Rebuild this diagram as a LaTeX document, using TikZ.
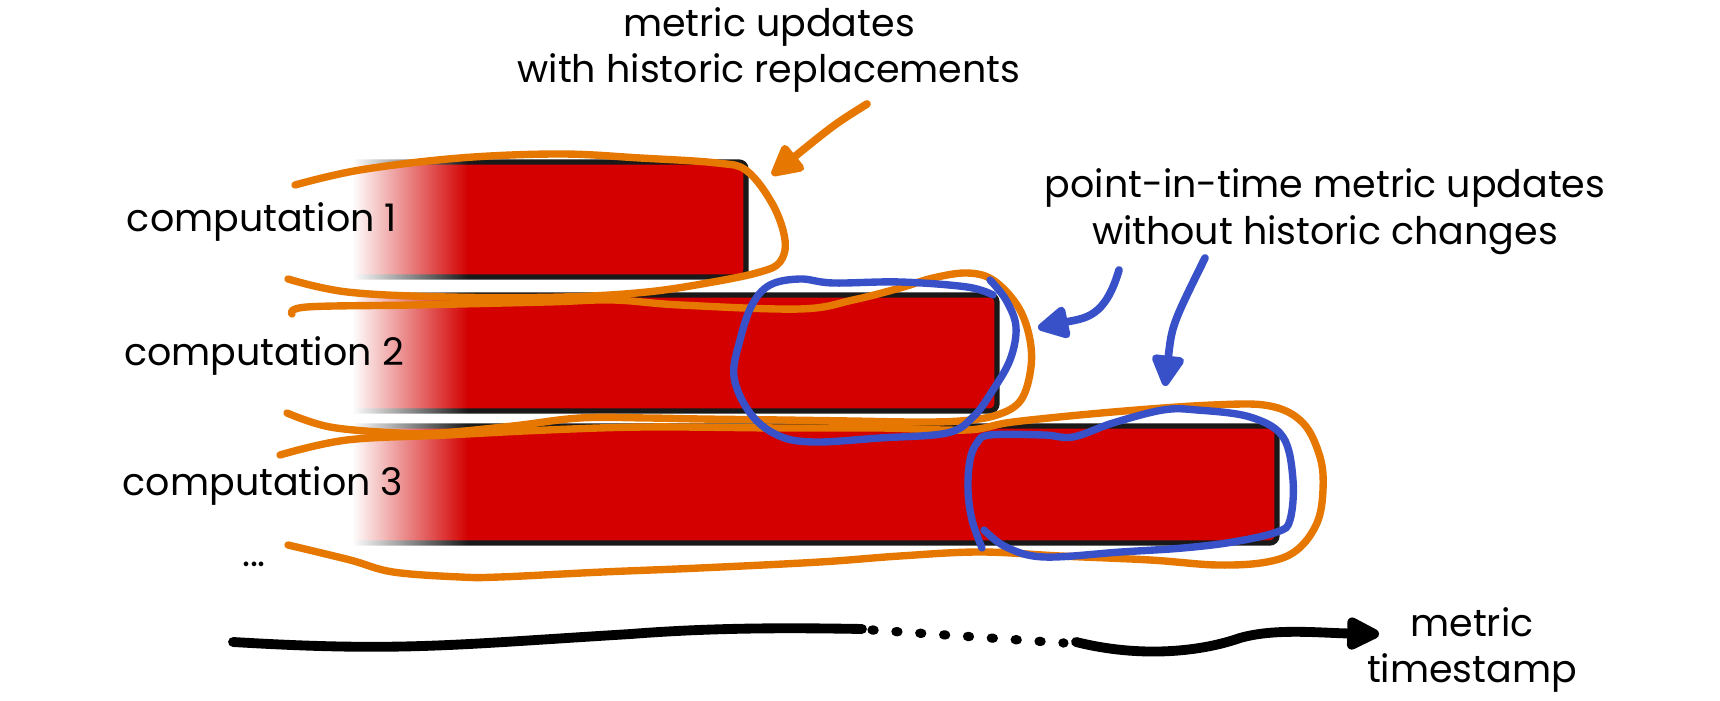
\documentclass[tikz,border=0pt]{standalone}
\usepackage{fontspec}
\setmainfont{Poppins}
\usetikzlibrary{arrows.meta,fadings}
\definecolor{historange}{RGB}{230,119,0}
\definecolor{pitblue}{RGB}{56,81,200}
\definecolor{barred}{RGB}{212,0,0}

\begin{document}
\begin{tikzpicture}[x=0.01cm,y=-0.01cm,>={Triangle[length=10pt,width=10pt,round]},
  line cap=round,line join=round,
  lbl/.style={font=\fontsize{10.8}{13.3}\selectfont,inner sep=0pt,align=center},
  bar/.style={fill=barred,draw=black!90,line width=1.5pt,rounded corners=2pt},
  hist/.style={draw=historange,line width=2.1pt},
  pit/.style={draw=pitblue,line width=2.1pt}]
\useasboundingbox (0,0) rectangle (1720,701);

% computations
\path[bar] (335,162) rectangle (746,277);
\path[bar] (335,295) rectangle (997,411);
\path[bar] (335,426) rectangle (1277,543);
\fill[white] (320,150) rectangle (353,560);
\fill[white,path fading=east] (352,150) rectangle (468,560);

\node[lbl] (comp1) at (262,222) {computation 1};
\node[lbl] (comp2) at (264,356) {computation 2};
\node[lbl] (comp3) at (263,486) {computation 3};
\node[lbl] (more) at (254,564) {...};

% historic replacements
\draw[hist] plot[smooth,tension=0.6] coordinates {(295,185) (360,170) (460,158) (560,154) (640,158) (717,163) (747,171) (773,205) (785,240) (780,262) (760,272) (713,282) (647,292) (563,297) (447,297) (347,292) (288,279)};
\draw[hist] plot[smooth,tension=0.6] coordinates {(292,314) (307,307) (413,305) (547,302) (613,300) (680,305) (800,309) (853,300) (900,288) (933,278) (967,273) (993,280) (1017,305) (1029,335) (1031,367) (1021,400) (997,415) (960,421) (913,422) (850,421) (780,420) (700,419) (647,418) (580,418) (513,426) (440,433) (397,433) (330,427) (287,413)};
\draw[hist] plot[smooth,tension=0.6] coordinates {(280,455) (347,440) (447,435) (547,430) (647,427) (780,428) (880,428) (967,430) (1013,422) (1113,412) (1213,405) (1270,406) (1303,423) (1320,457) (1323,490) (1317,523) (1297,550) (1267,562) (1217,565) (1150,560) (1060,556) (980,552) (900,556) (820,562) (700,568) (603,572) (500,577) (460,577) (393,572) (350,560) (288,545)};

\node[lbl] (histnote) at (769,50) {metric updates\\with historic replacements};
\coordinate (histfrom) at (867,104);
\coordinate (histto) at (772,175);
\draw[hist,line width=2.2pt,->] (histfrom) .. controls (835,124) .. (histto);

% point-in-time updates
\draw[pit] plot[smooth,tension=0.6] coordinates {(990,280) (1006,300) (1016,327) (1010,360) (991,393) (973,417) (947,433) (880,438) (813,442) (777,435) (750,413) (734,377) (740,340) (752,305) (770,285) (800,279) (833,283) (900,282) (967,287) (993,295)};
\draw[pit] plot[smooth,tension=0.6] coordinates {(982,548) (972,520) (968,490) (970,460) (977,443) (990,435) (1044,435) (1073,437) (1113,423) (1163,410) (1197,410) (1250,417) (1283,437) (1293,480) (1290,520) (1277,532) (1233,542) (1183,548) (1121,552) (1044,557) (1006,547) (984,530)};

\node[lbl] (pitnote) at (1325,212) {point-in-time metric updates\\without historic changes};
\coordinate (pitfromA) at (1119,270);
\coordinate (pittoA) at (1038,328);
\coordinate (pitfromB) at (1205,258);
\coordinate (pittoB) at (1165,386);
\draw[pit,line width=2.2pt,->] (pitfromA) .. controls (1105,318) and (1085,318) .. (pittoA);
\draw[pit,line width=2.2pt,->] (pitfromB) .. controls (1172,325) .. (pittoB);

% time axis
\coordinate (axstart) at (233,642);
\coordinate (axgap) at (862,629);
\coordinate (axresume) at (1076,642);
\coordinate (axend) at (1379,634);
\draw[line width=2.8pt] (axstart) .. controls (400,652) and (450,645) .. (631,634) .. controls (720,627) and (800,628) .. (axgap);
\draw[line width=2.6pt,dash pattern=on 0.6pt off 6.2pt] (872,630) -- (1064,643);
\draw[line width=2.8pt,-{Triangle[length=11pt,width=10pt,round]}] (axresume) .. controls (1140,658) and (1200,652) .. (1240,638) .. controls (1275,628) and (1320,633) .. (axend);
\node[lbl] (axlabel) at (1472,650) {metric\\timestamp};
\end{tikzpicture}
\end{document}
